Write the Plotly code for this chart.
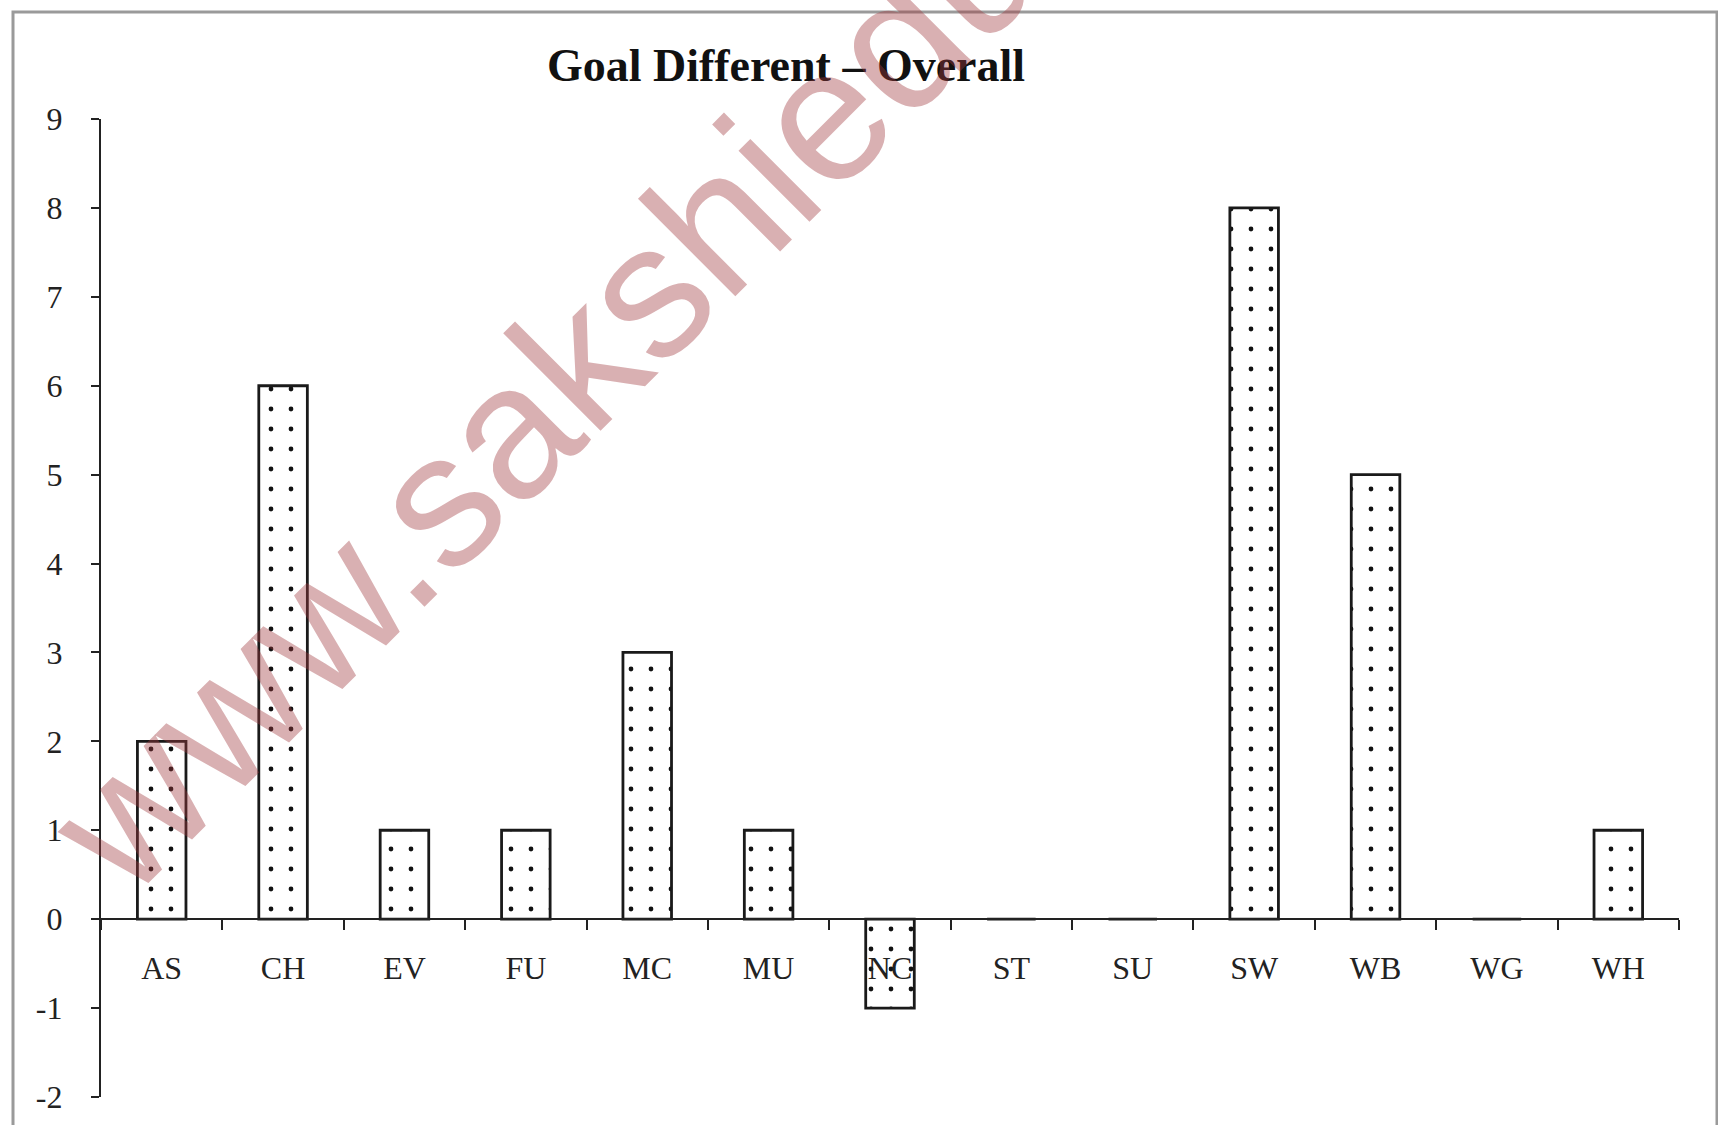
import plotly.graph_objects as go

# ---- data ----
teams = ["AS", "CH", "EV", "FU", "MC", "MU", "NC", "ST", "SU", "SW", "WB", "WG", "WH"]
goal_diff = [2, 6, 1, 1, 3, 1, -1, 0, 0, 8, 5, 0, 1]
y_ticks = [-2, -1, 0, 1, 2, 3, 4, 5, 6, 7, 8, 9]
title_text = "Goal Different – Overall"
watermark_text = "www.sakshieducation.com"

W, H = 1718, 1125
L, R, T, B = 101, 39, 119, 28
plot_w = W - L - R
plot_h = H - T - B
y_min, y_max = -2, 9

fig = go.Figure()
fig.add_trace(go.Bar(
    x=teams,
    y=goal_diff,
    width=0.4,
    marker=dict(
        color="white",
        line=dict(color="#1a1a1a", width=2.8),
        pattern=dict(shape=".", fgcolor="#111111", bgcolor="white",
                     size=20, solidity=0.045, fillmode="replace"),
    ),
    showlegend=False,
    hoverinfo="x+y",
))

serif = "Liberation Serif, Times New Roman, serif"

fig.update_layout(
    width=W, height=H,
    template="none",
    paper_bgcolor="white",
    plot_bgcolor="white",
    margin=dict(l=L, r=R, t=T, b=B, pad=0),
    title=dict(
        text=title_text,
        font=dict(family=serif, size=46, color="#111111", weight="bold"),
        x=786 / W, xanchor="center", xref="container",
        y=1 - 65 / H, yanchor="middle", yref="container",
    ),
    xaxis=dict(
        type="category",
        range=[-0.5, len(teams) - 0.5],
        anchor="free",
        position=(0 - y_min) / (y_max - y_min),
        showline=True, linecolor="#222222", linewidth=2.4,
        ticks="outside", tickson="boundaries", ticklen=10, tickwidth=2, tickcolor="#222222",
        showgrid=False, zeroline=False,
        tickfont=dict(family=serif, size=32, color="#222222"),
        ticklabelstandoff=20,
        automargin=False,
    ),
    yaxis=dict(
        range=[y_min, y_max],
        tickvals=y_ticks,
        ticktext=[str(v) for v in y_ticks],
        showline=True, linecolor="#222222", linewidth=2.4,
        ticks="outside", ticklen=8, tickwidth=2, tickcolor="#222222",
        showgrid=False, zeroline=False,
        tickfont=dict(family=serif, size=32, color="#222222"),
        ticklabelstandoff=22,
        automargin=False,
    ),
)

# outer frame of the original picture
fig.add_shape(
    type="rect", xref="paper", yref="paper",
    x0=(13 - L) / plot_w, x1=(1717 - L) / plot_w,
    y0=-0.2, y1=(H - B - 12) / plot_h,
    line=dict(color="#9a9a9a", width=3),
    fillcolor="rgba(0,0,0,0)",
    layer="below",
)

# diagonal watermark
fig.add_annotation(
    text=watermark_text,
    xref="paper", yref="paper",
    x=(869 - L) / plot_w, y=(H - B - 69) / plot_h,
    xanchor="center", yanchor="middle",
    showarrow=False,
    textangle=-45,
    font=dict(family="Liberation Sans, Arial, sans-serif", size=190,
              color="rgba(160,57,62,0.4)"),
)

fig.write_html(
    "out.html",
    config={"displayModeBar": False},
    post_script="document.body.style.margin='0';document.body.style.overflow='hidden';",
)
